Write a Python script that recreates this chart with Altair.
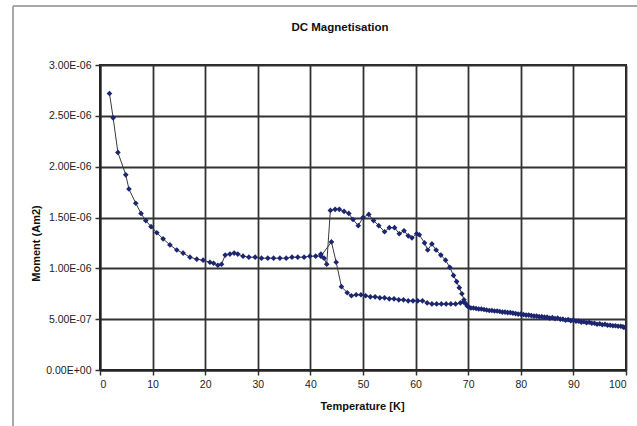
import altair as alt
import pandas as pd

# Series A (upper branch)
temp_a = [1.8, 2.5, 3.4, 4.9, 5.5, 6.8, 7.8, 8.7, 9.7, 10.8, 12.0, 13.3, 14.6, 15.8, 17.1, 18.4,
          19.6, 20.9, 21.6, 22.4, 23.1, 23.8, 24.7, 25.5, 26.2, 27.2, 28.3, 29.5, 30.7, 31.9, 33.0,
          34.2, 35.4, 36.5, 37.6, 38.8, 39.9, 41.0, 42.0, 42.6, 43.1, 43.8, 44.7, 45.5, 46.4, 47.3,
          48.1, 49.1, 50.0, 51.1, 52.0, 53.0, 54.1, 55.0, 56.0, 56.9, 57.8, 58.6, 59.3, 60.2, 60.7,
          61.7, 62.3, 63.1, 63.9, 64.8, 65.7, 66.5, 67.2, 67.8, 68.3, 68.8, 69.2, 69.6, 70.1, 71.0,
          72.0, 73.0, 74.0, 75.0, 76.0, 77.0, 78.0, 79.0, 80.0, 81.0, 82.0, 83.0, 84.0, 85.0, 86.0,
          87.0, 88.0, 89.0, 90.0, 91.0, 92.0, 93.0, 94.0, 95.0, 96.0, 97.0, 98.0, 99.0, 99.6]
moment_a = [2.72, 2.48, 2.14, 1.92, 1.78, 1.64, 1.54, 1.47, 1.41, 1.35, 1.29, 1.23, 1.18, 1.15, 1.11, 1.09,
            1.08, 1.06, 1.05, 1.03, 1.04, 1.13, 1.14, 1.15, 1.14, 1.12, 1.11, 1.11, 1.10, 1.10, 1.10,
            1.10, 1.10, 1.11, 1.11, 1.11, 1.12, 1.12, 1.14, 1.10, 1.04, 1.57, 1.58, 1.58, 1.56, 1.54,
            1.48, 1.42, 1.50, 1.53, 1.47, 1.42, 1.36, 1.40, 1.40, 1.34, 1.37, 1.32, 1.30, 1.34, 1.33,
            1.25, 1.18, 1.24, 1.18, 1.13, 1.08, 1.01, 0.93, 0.87, 0.81, 0.75, 0.69, 0.65, 0.62, 0.61,
            0.60, 0.595, 0.585, 0.58, 0.575, 0.57, 0.565, 0.555, 0.55, 0.54, 0.535, 0.53, 0.525, 0.52, 0.515,
            0.51, 0.50, 0.495, 0.49, 0.48, 0.475, 0.47, 0.46, 0.455, 0.45, 0.44, 0.435, 0.43, 0.42]

# Series B (lower branch)
temp_b = [42.0, 44.0, 44.9, 45.9, 47.0, 47.8, 48.7, 49.6, 50.5, 51.4, 52.3, 53.2, 54.1, 55.0, 55.9,
          56.8, 57.7, 58.6, 59.5, 60.4, 61.3, 62.2, 63.1, 64.0, 64.9, 65.8, 66.7, 67.6, 68.5, 69.1,
          69.8, 70.5, 71.5, 72.5, 73.5, 74.5, 75.5, 76.5, 77.5, 78.5, 79.5, 80.5, 81.5, 82.5, 83.5,
          84.5, 85.5, 86.5, 87.5, 88.5, 89.5, 90.5, 91.5, 92.5, 93.5, 94.5, 95.5, 96.5, 97.5, 98.5, 99.4]
moment_b = [1.12, 1.26, 1.06, 0.82, 0.76, 0.73, 0.74, 0.74, 0.73, 0.72, 0.72, 0.71, 0.71, 0.70, 0.70,
            0.69, 0.69, 0.68, 0.68, 0.68, 0.68, 0.66, 0.65, 0.65, 0.65, 0.65, 0.65, 0.65, 0.66, 0.67,
            0.63, 0.61, 0.605, 0.60, 0.59, 0.585, 0.58, 0.57, 0.565, 0.56, 0.55, 0.545, 0.54, 0.53, 0.525,
            0.52, 0.51, 0.505, 0.50, 0.49, 0.485, 0.48, 0.47, 0.465, 0.46, 0.45, 0.445, 0.44, 0.435, 0.43, 0.425]

y_ticks = [0, 5e-7, 1e-6, 1.5e-6, 2e-6, 2.5e-6, 3e-6]
y_labels = ["0.00E+00", "5.00E-07", "1.00E-06", "1.50E-06", "2.00E-06", "2.50E-06", "3.00E-06"]
x_ticks = [0, 10, 20, 30, 40, 50, 60, 70, 80, 90, 100]

rows = []
for i, (t, m) in enumerate(zip(temp_a, moment_a)):
    rows.append({"series": "A", "idx": i, "T": t, "M": m * 1e-6})
for i, (t, m) in enumerate(zip(temp_b, moment_b)):
    rows.append({"series": "B", "idx": i, "T": t, "M": m * 1e-6})
df = pd.DataFrame(rows)

W, H = 526, 305
FONT = "Liberation Sans"
label_expr = "[" + ",".join("'%s'" % s for s in y_labels) + "][round(datum.value / 5e-7)]"

x_enc = alt.X("T:Q", scale=alt.Scale(domain=[0, 100], nice=False),
              axis=alt.Axis(values=x_ticks, title="Temperature [K]", titleX=262, titleY=36,
                            titleBaseline="middle", titleAlign="center"))
y_enc = alt.Y("M:Q", scale=alt.Scale(domain=[0, 3e-6], nice=False),
              axis=alt.Axis(values=y_ticks, labelExpr=label_expr, title="Moment (Am2)",
                            titleX=-64, titleY=178, titleBaseline="middle", titleAlign="center"))

base = alt.Chart(df).encode(x=x_enc, y=y_enc, detail="series:N", order="idx:Q")

line = base.mark_line(color="#3a3a3a", strokeWidth=1)
pts = base.mark_point(shape="diamond", filled=True, size=32, color="#1c2570", opacity=1)

border = alt.Chart(pd.DataFrame({"a": [0]}))
left_b = border.mark_rule(color="#a8a8a8", strokeWidth=2).encode(
    x=alt.value(-87), y=alt.value(-59), y2=alt.value(H + 80))
top_b = border.mark_rule(color="#a8a8a8", strokeWidth=2).encode(
    x=alt.value(-87), x2=alt.value(W + 40), y=alt.value(-59))

chart = alt.layer(left_b, top_b, line, pts).properties(
    width=W, height=H,
    title=alt.TitleParams("DC Magnetisation", fontSize=11.5, fontWeight="bold", font=FONT,
                          color="#111", anchor="middle", dx=-23, offset=-28),
    autosize=alt.AutoSizeParams(type="none"),
    padding={"left": 100, "top": 65, "right": 11, "bottom": 56},
).configure(background="white").configure_view(stroke="#222", strokeWidth=2).configure_axis(
    grid=True, gridColor="#333", gridWidth=1.8, gridOpacity=1,
    domainColor="#222", domainWidth=2, tickColor="#333", tickSize=5, tickWidth=1.5,
    labelFont=FONT, labelFontSize=10.5, labelColor="#222", labelPadding=4,
    titleFont=FONT, titleFontSize=11, titleFontWeight="bold", titleColor="#111",
)

chart.save("out.html", embed_options={"renderer": "svg", "actions": False})
